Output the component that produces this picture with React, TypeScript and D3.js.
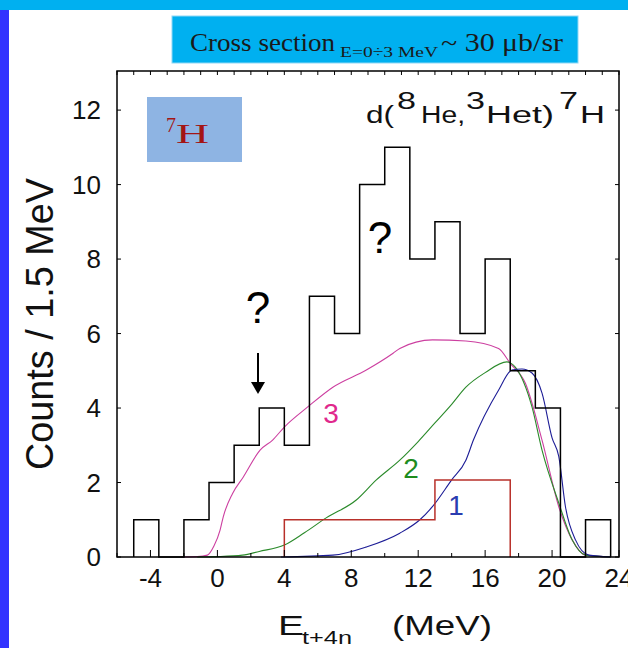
import React from "react";
import * as d3 from "d3";

// Histogram: bins of 1.5 MeV starting at -5 MeV
const binStart = -5;
const binWidth = 1.5;
const counts = [1, 0, 1, 2, 3, 4, 3, 7, 6, 10, 11, 8, 9, 6, 8, 5, 4, 0, 1];

// Red histogram (estimated 7H contribution)
const redEdges = [4, 13, 17.5];
const redCounts = [1, 2.07];

// Phase-space curves [E, counts]
const curve3: [number, number][] = [
  [-2.2, 0], [-1.2, 0.01], [-0.6, 0.05], [-0.2, 0.3], [0.16, 0.72], [0.35, 1.08],
  [0.9, 1.7], [1.55, 2.15], [2.55, 2.87], [3.3, 3.14], [4.0, 3.49], [5.4, 4.03],
  [6.9, 4.56], [8.9, 5.02], [10.5, 5.47], [10.9, 5.6], [12.85, 5.83], [14.85, 5.8],
  [16.8, 5.6], [17.5, 5.2], [18.4, 4.67], [19.4, 3.14], [20.4, 1.35], [21.2, 0.46],
  [22, 0.05], [23.5, 0],
];
const curve2: [number, number][] = [
  [-1.2, 0], [0, 0.01], [1.5, 0.05], [2.5, 0.15], [4, 0.32], [5.2, 0.65], [6.5, 1.05],
  [8.3, 1.53], [9.5, 2.07], [10.9, 2.6], [12, 3.1], [13, 3.6], [14, 4.1],
  [14.85, 4.56], [16, 4.95], [17.3, 5.24], [17.8, 5.1], [18.8, 4.03], [19.4, 2.87],
  [20.4, 1.45], [21.2, 0.46], [22, 0.05], [23.5, 0],
];
const curve1: [number, number][] = [
  [3.8, 0], [6.9, 0.05], [8.9, 0.27], [10.9, 0.64], [12.1, 1.0], [12.85, 1.35],
  [14, 2.07], [14.85, 2.6], [15.3, 3.14], [16.8, 4.48], [17.6, 5.02], [18.2, 5.05],
  [18.8, 4.94], [19.4, 4.4], [20, 3.2], [20.4, 2.7], [20.8, 1.35], [21.4, 0.46],
  [22.2, 0.05], [23.5, 0],
];

const xTicks = [-4, 0, 4, 8, 12, 16, 20, 24];
const yTicks = [0, 2, 4, 6, 8, 10, 12];

const W = 628;
const H = 648;
const L = 117, R = 619, T = 71, B = 557;

export default function App() {
  const x = d3.scaleLinear().domain([-6, 24]).range([L, R]);
  const y = d3.scaleLinear().domain([0, 13.05]).range([B, T]);

  // histogram step path
  const edges = counts.map((_, i) => binStart + i * binWidth);
  const lastEdge = binStart + counts.length * binWidth;
  let hist = `M${x(binStart)},${y(0)}`;
  counts.forEach((c, i) => {
    hist += `L${x(edges[i])},${y(c)}L${x(edges[i] + binWidth)},${y(c)}`;
  });
  hist += `L${x(lastEdge)},${y(0)}`;

  let red = `M${x(redEdges[0])},${y(0)}`;
  redCounts.forEach((c, i) => {
    red += `L${x(redEdges[i])},${y(c)}L${x(redEdges[i + 1])},${y(c)}`;
  });
  red += `L${x(redEdges[redEdges.length - 1])},${y(0)}`;

  const line = d3
    .line<[number, number]>()
    .x((d) => x(d[0]))
    .y((d) => y(d[1]))
    .curve(d3.curveMonotoneX);

  const topTicks = d3.range(-6, 25, 1);
  const botTicks = d3.range(-6, 25, 2);
  const sideTicks = d3.range(0, 13, 2);

  const sans = "Arial, 'Liberation Sans', sans-serif";
  const serif = "'Times New Roman', 'Liberation Serif', serif";

  return (
    <svg
      width={W}
      height={H}
      style={{ position: "absolute", left: 0, top: 0, background: "#fff" }}
    >
      <rect x={0} y={0} width={W} height={H} fill="#fff" />
      {/* slide decorations */}
      <rect x={0} y={0} width={W} height={10} fill="#00b0f0" />
      <rect x={0} y={10} width={9} height={H - 10} fill="#3333ff" />

      {/* cross section banner */}
      <rect x={172} y={16} width={406} height={47} fill="#00b0f0" stroke="#8fd8f5" strokeWidth={1} />
      <text x={190} y={51} fontFamily={serif} fontSize={25} fill="#1a1a1a" textLength={145} lengthAdjust="spacingAndGlyphs">
        Cross section
      </text>
      <text x={340} y={57} fontFamily={serif} fontSize={15} fill="#1a1a1a" textLength={98} lengthAdjust="spacingAndGlyphs">
        E=0÷3 MeV
      </text>
      <text x={441} y={51} fontFamily={serif} fontSize={25} fill="#1a1a1a" textLength={122} lengthAdjust="spacingAndGlyphs">
        ~ 30 μb/sr
      </text>

      {/* 7H box */}
      <rect x={147} y={97} width={95} height={65} fill="#8eb4e3" />
      <text x={166} y={132} fontFamily={serif} fontSize={20} fill="#a31515">7</text>
      <text x={176} y={143} fontFamily={serif} fontSize={27} fill="#a31515" textLength={33} lengthAdjust="spacingAndGlyphs">H</text>

      {/* curves */}
      <path d={line(curve3) || ""} fill="none" stroke="#cc3fa0" strokeWidth={1.1} />
      <path d={line(curve2) || ""} fill="none" stroke="#2a8a2a" strokeWidth={1.1} />
      <path d={line(curve1) || ""} fill="none" stroke="#1c1c96" strokeWidth={1.1} />

      {/* red histogram */}
      <path d={red} fill="none" stroke="#b8302a" strokeWidth={1.5} />

      {/* data histogram */}
      <path d={hist} fill="none" stroke="#000" strokeWidth={1.5} />

      {/* frame */}
      <rect x={L} y={T} width={R - L} height={B - T} fill="none" stroke="#000" strokeWidth={1.5} />
      {topTicks.map((t) => (
        <line key={"tt" + t} x1={x(t)} x2={x(t)} y1={T} y2={T + 4} stroke="#000" strokeWidth={1} />
      ))}
      {botTicks.map((t) => (
        <line key={"bt" + t} x1={x(t)} x2={x(t)} y1={B} y2={B - (t % 4 === 0 ? 7 : 4)} stroke="#000" strokeWidth={1} />
      ))}
      {sideTicks.map((t) => (
        <g key={"st" + t}>
          <line x1={L} x2={L + 4} y1={y(t)} y2={y(t)} stroke="#000" strokeWidth={1} />
          <line x1={R} x2={R - 4} y1={y(t)} y2={y(t)} stroke="#000" strokeWidth={1} />
        </g>
      ))}

      {/* tick labels */}
      {yTicks.map((t) => (
        <text key={"yl" + t} x={101} y={y(t)} dy="0.36em" textAnchor="end" fontFamily={sans} fontSize={26} fill="#111">
          {t}
        </text>
      ))}
      {xTicks.map((t) => (
        <text key={"xl" + t} x={x(t)} y={587} textAnchor="middle" fontFamily={sans} fontSize={26} fill="#111">
          {t}
        </text>
      ))}

      {/* axis titles */}
      <text
        transform={`translate(53,324) rotate(-90)`}
        textAnchor="middle"
        fontFamily={sans}
        fontSize={38}
        fill="#111"
        textLength={292}
        lengthAdjust="spacingAndGlyphs"
      >
        Counts / 1.5 MeV
      </text>
      <text x={278} y={635} fontFamily={sans} fontSize={28} fill="#111" textLength={26} lengthAdjust="spacingAndGlyphs">E</text>
      <text x={302} y={644} fontFamily={sans} fontSize={18} fill="#111" textLength={50} lengthAdjust="spacingAndGlyphs">t+4n</text>
      <text x={392} y={635} fontFamily={sans} fontSize={28} fill="#111" textLength={100} lengthAdjust="spacingAndGlyphs">(MeV)</text>

      {/* reaction title */}
      <g fontFamily={sans} fontSize={23} fill="#111">
        <text x={366} y={123} textLength={28} lengthAdjust="spacingAndGlyphs">d(</text>
        <text x={397} y={109} textLength={19} lengthAdjust="spacingAndGlyphs">8</text>
        <text x={421} y={123} textLength={44} lengthAdjust="spacingAndGlyphs">He,</text>
        <text x={466} y={109} textLength={19} lengthAdjust="spacingAndGlyphs">3</text>
        <text x={486} y={123} textLength={68} lengthAdjust="spacingAndGlyphs">Het)</text>
        <text x={559} y={109} textLength={19} lengthAdjust="spacingAndGlyphs">7</text>
        <text x={580} y={123} textLength={25} lengthAdjust="spacingAndGlyphs">H</text>
      </g>

      {/* curve labels */}
      <text x={331} y={423} textAnchor="middle" fontFamily={sans} fontSize={28} fill="#e0288c">3</text>
      <text x={411} y={478} textAnchor="middle" fontFamily={sans} fontSize={28} fill="#1e8c1e">2</text>
      <text x={456} y={515} textAnchor="middle" fontFamily={sans} fontSize={28} fill="#2a3cb0">1</text>

      {/* question marks and arrow */}
      <text x={258} y={323} textAnchor="middle" fontFamily={sans} fontSize={44} fill="#000">?</text>
      <text x={380} y={253} textAnchor="middle" fontFamily={sans} fontSize={44} fill="#000">?</text>
      <line x1={258} x2={258} y1={353} y2={384} stroke="#000" strokeWidth={2} />
      <path d="M251,382 L265,382 L258,394 Z" fill="#000" />
    </svg>
  );
}
